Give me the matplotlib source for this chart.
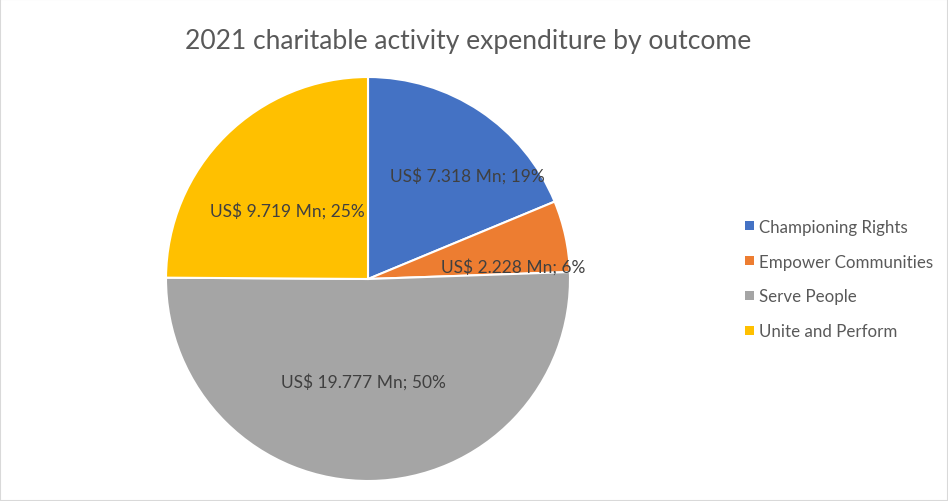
import matplotlib.pyplot as plt
from matplotlib.patches import Rectangle, Patch

categories = ['Championing Rights', 'Empower Communities', 'Serve People', 'Unite and Perform']
values = [7.318, 2.228, 19.777, 9.719]
percents = [19, 6, 50, 25]
colors = ['#4472C4', '#ED7D31', '#A5A5A5', '#FFC000']
# label positions inside the pie (data units, radius 1)
label_pos = [(0.49, 0.515), (0.72, 0.064), (-0.025, -0.505), (-0.40, 0.34)]

plt.rcParams['font.family'] = ['Lato', 'DejaVu Sans']

fig = plt.figure(figsize=(9.48, 5.02), dpi=100)
ax = fig.add_axes([166 / 948, 20 / 502, 404 / 948, 404 / 502])

wedges, _ = ax.pie(values, colors=colors, startangle=90, counterclock=False,
                   radius=1, wedgeprops=dict(edgecolor='white', linewidth=1.5))
ax.set_xlim(-1, 1)
ax.set_ylim(-1, 1)
ax.set_aspect('equal')

for v, pct, (x, y) in zip(values, percents, label_pos):
    ax.text(x, y, f'US$ {v:.3f} Mn; {pct}%', ha='center', va='center',
            fontsize=12.5, color='#404040')

fig.text(468 / 948, 1 - 42 / 502, '2021 charitable activity expenditure by outcome',
         ha='center', va='center', fontsize=19.1, color='#595959')

handles = [Patch(facecolor=c, edgecolor='none') for c in colors]
fig.legend(handles, categories, loc='center left', bbox_to_anchor=(730 / 948, 1 - 280 / 502),
           frameon=False, fontsize=12.2, labelcolor='#595959', handlelength=0.5,
           handleheight=0.5, handletextpad=0.3, labelspacing=1.12)

fig.patches.append(Rectangle((0, 0), 1, 1, transform=fig.transFigure, fill=False,
                             edgecolor='#D9D9D9', linewidth=1.5))

fig.savefig('out.png', dpi=100)
